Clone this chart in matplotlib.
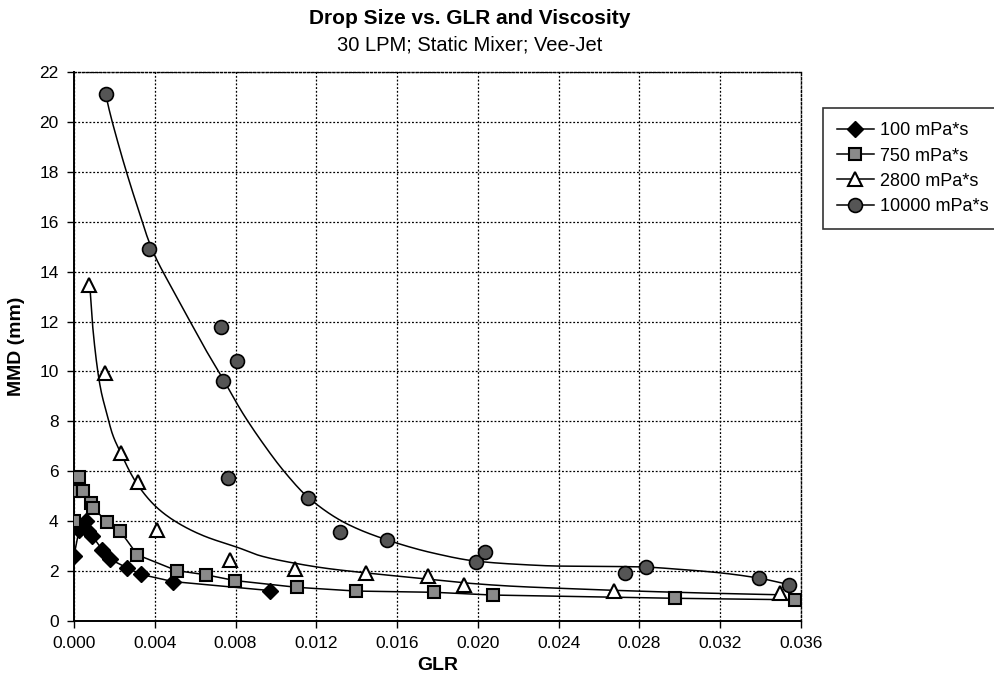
import numpy as np
import matplotlib
matplotlib.use("Agg")
import matplotlib.pyplot as plt
from matplotlib.ticker import FormatStrFormatter
from matplotlib.lines import Line2D

# ---------------- data ----------------
labels = ["100 mPa*s", "750 mPa*s", "2800 mPa*s", "10000 mPa*s"]

glr_100 = [0.0000, 0.00025, 0.0004, 0.0006, 0.0007, 0.0009, 0.0014, 0.0018, 0.0026, 0.0033, 0.0049, 0.0097]
mmd_100 = [2.61, 3.65, 3.80, 4.00, 3.60, 3.42, 2.85, 2.47, 2.14, 1.87, 1.58, 1.22]

glr_750 = [0.0000, 0.0000, 0.00025, 0.00046, 0.00083, 0.00096, 0.00165, 0.00228, 0.00314,
           0.00508, 0.00654, 0.00797, 0.01103, 0.01397, 0.01785, 0.02074, 0.02978, 0.03568]
mmd_750 = [4.02, 5.19, 5.76, 5.19, 4.72, 4.52, 3.96, 3.61, 2.65,
           2.02, 1.85, 1.62, 1.35, 1.20, 1.15, 1.04, 0.91, 0.85]

glr_2800 = [0.00076, 0.00154, 0.00231, 0.00315, 0.0041, 0.00773, 0.01095, 0.01446, 0.01752, 0.0193, 0.02675, 0.03497]
mmd_2800 = [13.45, 9.94, 6.73, 5.59, 3.63, 2.45, 2.09, 1.91, 1.79, 1.44, 1.22, 1.11]

glr_10000 = [0.00157, 0.00373, 0.00728, 0.00807, 0.0074, 0.00764, 0.01159, 0.01317, 0.0155,
             0.0199, 0.02037, 0.02726, 0.02833, 0.0339, 0.0354]
mmd_10000 = [21.1, 14.92, 11.77, 10.4, 9.63, 5.75, 4.93, 3.55, 3.24,
             2.38, 2.76, 1.94, 2.18, 1.72, 1.46]

# trend lines as drawn in the reference
trend_2800_x = [0.00076, 0.00096, 0.00132, 0.00162, 0.0019, 0.00228, 0.0031, 0.0041, 0.0051, 0.0064,
                0.0082, 0.0092, 0.0109, 0.0125, 0.0142, 0.0160, 0.0175, 0.0193, 0.0218, 0.0241,
                0.0267, 0.0290, 0.0317, 0.0350]
trend_2800_y = [13.7, 11.5, 9.3, 8.33, 7.5, 6.79, 5.52, 4.55, 3.95, 3.42,
                2.92, 2.62, 2.32, 2.11, 1.95, 1.8, 1.68, 1.53, 1.39, 1.31,
                1.23, 1.17, 1.11, 1.05]

trend_10000_x = [0.00157, 0.00178, 0.0022, 0.00261, 0.0030, 0.00385, 0.0048, 0.00575, 0.0065, 0.0074,
                 0.0083, 0.0092, 0.0104, 0.0116, 0.0135, 0.0155, 0.0178, 0.0199, 0.0220, 0.0241,
                 0.0260, 0.0280, 0.0300, 0.0320, 0.0339, 0.0354]
trend_10000_y = [21.1, 20.36, 19.1, 17.96, 16.95, 14.92, 13.4, 12.0, 10.9, 9.67,
                 8.4, 7.3, 6.0, 4.95, 3.9, 3.25, 2.72, 2.4, 2.27, 2.2,
                 2.19, 2.17, 2.07, 1.93, 1.72, 1.46]

x_ticks = [0.000, 0.004, 0.008, 0.012, 0.016, 0.020, 0.024, 0.028, 0.032, 0.036]
y_ticks = [0, 2, 4, 6, 8, 10, 12, 14, 16, 18, 20, 22]


def pchip(x, y, n=400):
    x = np.asarray(x, float)
    y = np.asarray(y, float)
    h = np.diff(x)
    d = np.diff(y) / h
    m = np.zeros_like(y)
    for k in range(1, len(x) - 1):
        if d[k - 1] * d[k] > 0:
            w1 = 2 * h[k] + h[k - 1]
            w2 = h[k] + 2 * h[k - 1]
            m[k] = (w1 + w2) / (w1 / d[k - 1] + w2 / d[k])
    m[0] = d[0]
    m[-1] = d[-1]
    xs = np.linspace(x[0], x[-1], n)
    idx = np.clip(np.searchsorted(x, xs) - 1, 0, len(x) - 2)
    t = (xs - x[idx]) / h[idx]
    h00 = 2 * t**3 - 3 * t**2 + 1
    h10 = t**3 - 2 * t**2 + t
    h01 = -2 * t**3 + 3 * t**2
    h11 = t**3 - t**2
    ys = h00 * y[idx] + h10 * h[idx] * m[idx] + h01 * y[idx + 1] + h11 * h[idx] * m[idx + 1]
    return xs, ys


plt.rcParams['font.family'] = ['Liberation Sans', 'DejaVu Sans']

fig = plt.figure(figsize=(9.95, 6.87), dpi=100)
ax = fig.add_axes([74 / 995, 1 - 621 / 687, (801 - 74) / 995, (621 - 72) / 687])

lw = 1.1
sty_100 = dict(marker='D', ms=8, mfc='black', mec='black')
sty_750 = dict(marker='s', ms=9, mfc='#8a8a8a', mec='black', mew=1.5)
sty_2800 = dict(marker='^', ms=10, mfc='white', mec='black', mew=1.5)
sty_10000 = dict(marker='o', ms=10, mfc='#555555', mec='black', mew=1.2)

# 100 mPa*s
ax.plot(glr_100, mmd_100, color='black', lw=lw, zorder=3)
ax.plot(glr_100, mmd_100, ls='none', zorder=4, **sty_100)
# 750 mPa*s
ax.plot(glr_750, mmd_750, color='black', lw=lw, zorder=3)
ax.plot(glr_750, mmd_750, ls='none', zorder=4, **sty_750)
# 2800 mPa*s
tx, ty = pchip(trend_2800_x, trend_2800_y)
ax.plot(tx, ty, color='black', lw=lw, zorder=3)
ax.plot(glr_2800, mmd_2800, ls='none', zorder=4, **sty_2800)
# 10000 mPa*s
tx, ty = pchip(trend_10000_x, trend_10000_y)
ax.plot(tx, ty, color='black', lw=lw, zorder=3)
ax.plot(glr_10000, mmd_10000, ls='none', zorder=4, **sty_10000)

ax.set_xlim(0, 0.036)
ax.set_ylim(0, 22)
ax.set_xticks(x_ticks)
ax.set_yticks(y_ticks)
ax.xaxis.set_major_formatter(FormatStrFormatter('%.3f'))
ax.tick_params(axis='both', labelsize=12.5, direction='out', length=5, width=1, colors='black', pad=6)
ax.grid(True, color='black', ls=(0, (1.5, 1.5)), lw=0.9, zorder=1)
for s in ['left', 'bottom']:
    ax.spines[s].set_linewidth(1.4)
for s in ['top', 'right']:
    ax.spines[s].set_linestyle((0, (1.5, 1.5)))
    ax.spines[s].set_linewidth(1.0)

ax.set_xlabel('GLR', fontsize=14, fontweight='bold', labelpad=4)
ax.set_ylabel('MMD (mm)', fontsize=14, fontweight='bold', labelpad=10)

fig.text(470 / 995, 1 - 18 / 687, 'Drop Size vs. GLR and Viscosity', ha='center', va='center',
         fontsize=15, fontweight='bold')
fig.text(470 / 995, 1 - 45 / 687, '30 LPM; Static Mixer; Vee-Jet', ha='center', va='center',
         fontsize=14.5)

handles = [
    Line2D([], [], color='black', lw=lw, **sty_100),
    Line2D([], [], color='black', lw=lw, **sty_750),
    Line2D([], [], color='black', lw=lw, **sty_2800),
    Line2D([], [], color='black', lw=lw, **sty_10000),
]
leg = fig.legend(handles, labels, loc='upper left', bbox_to_anchor=(823 / 995, 1 - 108 / 687),
                 fontsize=13, frameon=True, fancybox=False, edgecolor='black',
                 handlelength=2.0, labelspacing=0.45, borderpad=0.8, handletextpad=0.35,
                 borderaxespad=0)
leg.get_frame().set_linewidth(1.2)

fig.savefig('out.png', dpi=100)
